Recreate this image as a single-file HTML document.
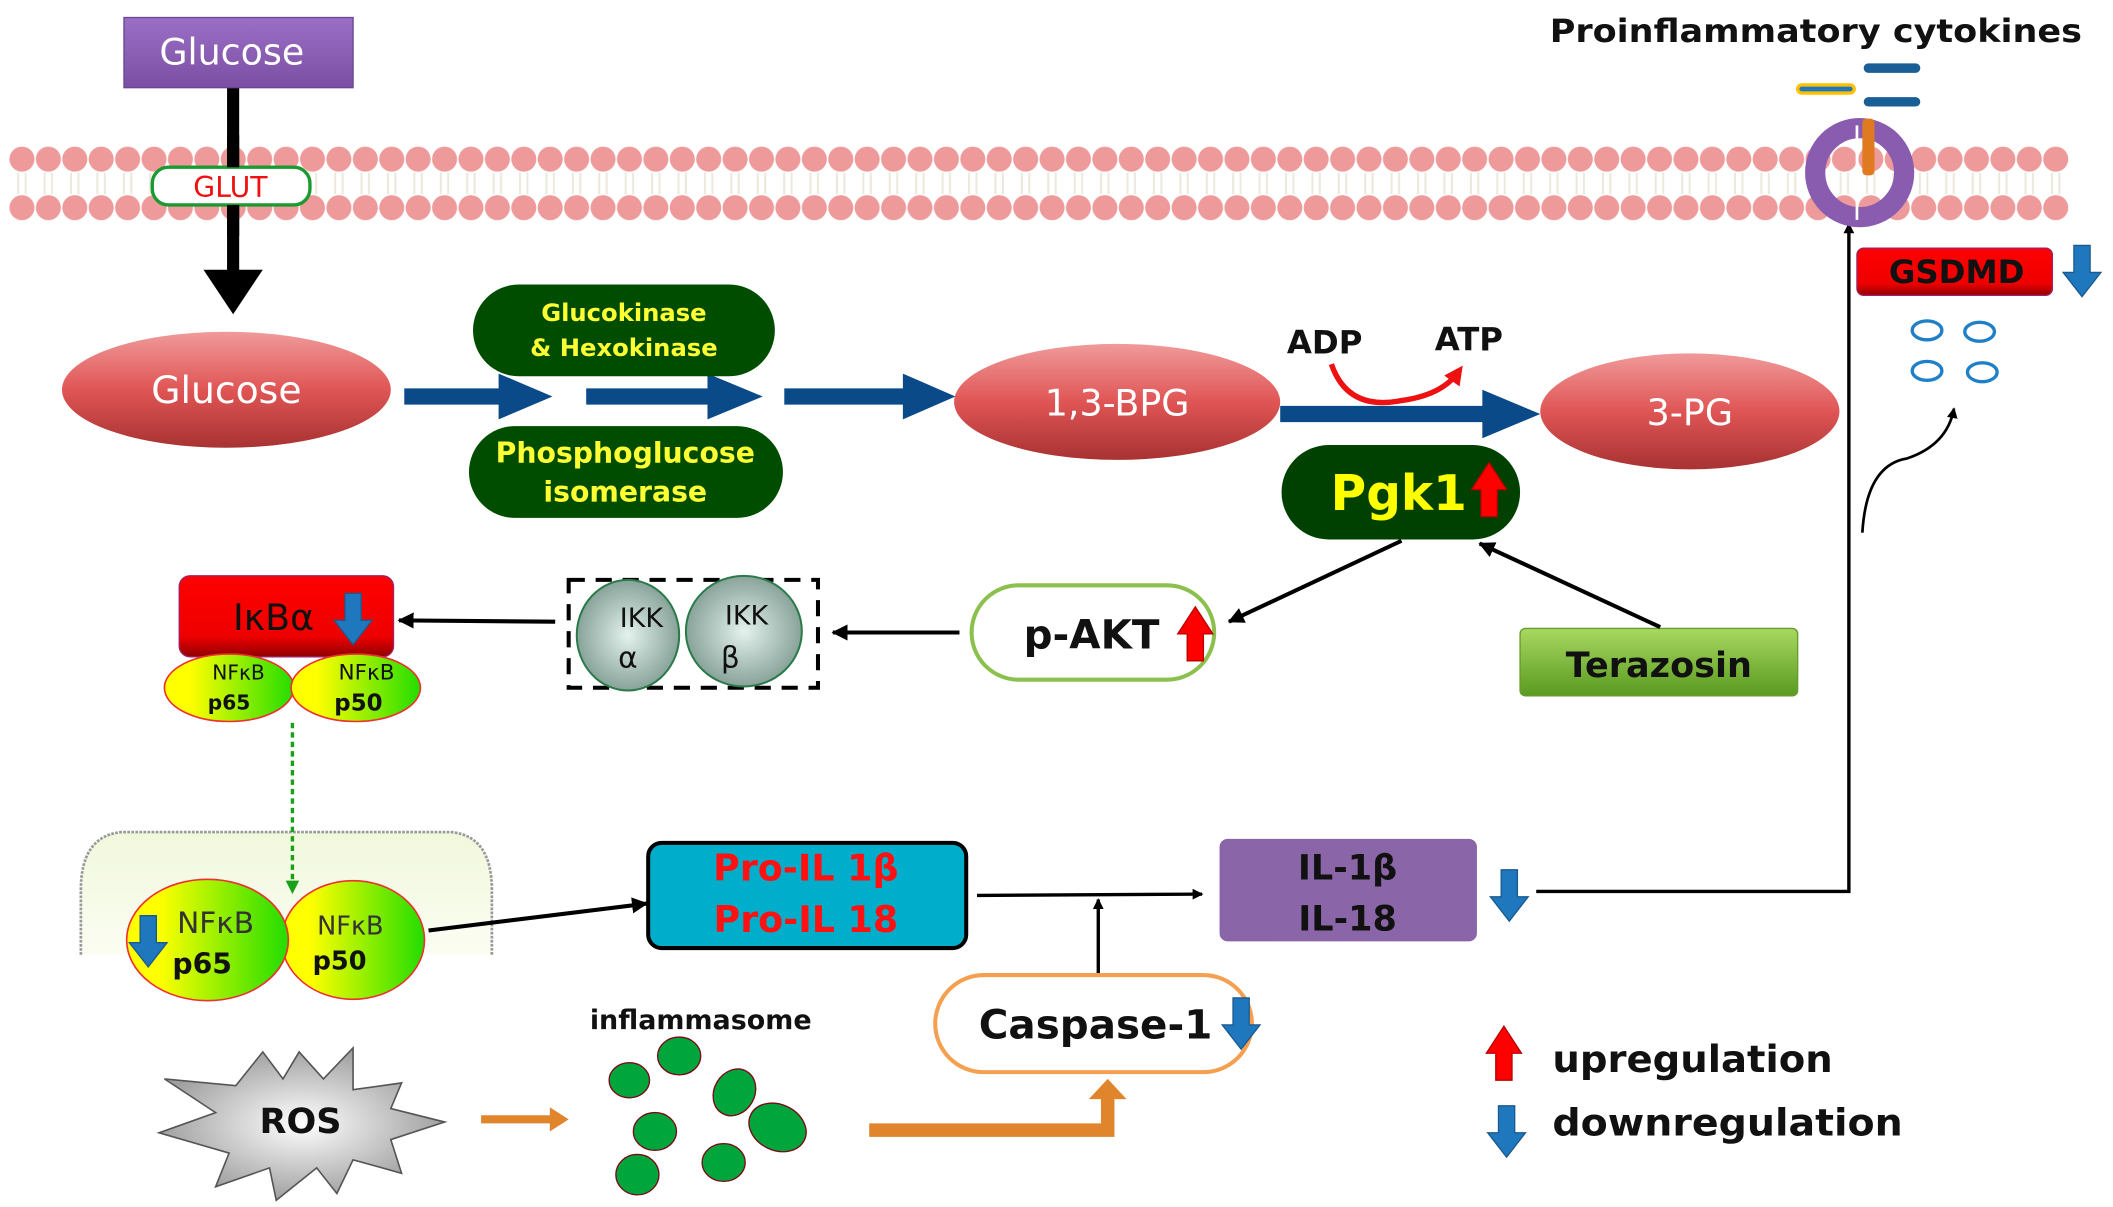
<!DOCTYPE html>
<html><head><meta charset="utf-8"><style>
html,body{margin:0;padding:0;background:#fff;}
svg{display:block;}
text{font-family:"DejaVu Sans","Liberation Sans",sans-serif;font-weight:bold;}
text.n{font-weight:normal;}
</style></head><body>
<svg width="2113" height="1207" viewBox="0 0 1568 895" preserveAspectRatio="none" xmlns="http://www.w3.org/2000/svg">
<defs>
<linearGradient id="red" x1="0" y1="0" x2="0" y2="1"><stop offset="0" stop-color="#f09a9a"/><stop offset="0.5" stop-color="#e05555"/><stop offset="1" stop-color="#a83232"/></linearGradient>
<linearGradient id="purp" x1="0" y1="0" x2="0" y2="1"><stop offset="0" stop-color="#9b6fc6"/><stop offset="1" stop-color="#7a4fa3"/></linearGradient>
<linearGradient id="yg" x1="0" y1="0" x2="1" y2="0"><stop offset="0.2" stop-color="#ffff00"/><stop offset="1" stop-color="#22dd00"/></linearGradient>
<radialGradient id="ikk" cx="0.5" cy="0.5" r="0.55"><stop offset="0" stop-color="#e4f2ee"/><stop offset="1" stop-color="#7f9b92"/></radialGradient>
<linearGradient id="grn" x1="0" y1="0" x2="0" y2="1"><stop offset="0" stop-color="#a8d860"/><stop offset="1" stop-color="#5a9a20"/></linearGradient>
<linearGradient id="rbox" x1="0" y1="0" x2="0" y2="1"><stop offset="0" stop-color="#ff0000"/><stop offset="0.75" stop-color="#ee0000"/><stop offset="1" stop-color="#900000"/></linearGradient>
<radialGradient id="ros" cx="0.5" cy="0.5" r="0.5"><stop offset="0" stop-color="#ffffff"/><stop offset="1" stop-color="#a0a0a0"/></radialGradient>
<linearGradient id="nuc" x1="0" y1="0" x2="0" y2="1"><stop offset="0" stop-color="#f0f8dc"/><stop offset="1" stop-color="#fbfdf2"/></linearGradient>
<pattern id="dotsA" patternUnits="userSpaceOnUse" x="6.5" y="108" width="19.6" height="20"><circle cx="9.8" cy="10" r="9.3" fill="#ee9a9a"/></pattern>
<pattern id="dotsB" patternUnits="userSpaceOnUse" x="6.5" y="144" width="19.6" height="20"><circle cx="9.8" cy="10" r="9.3" fill="#ee9a9a"/></pattern>
<pattern id="tails" patternUnits="userSpaceOnUse" x="6.5" y="128" width="19.6" height="16"><line x1="7" y1="0" x2="7" y2="16" stroke="#ece8dc" stroke-width="1.5"/><line x1="12.5" y1="0" x2="12.5" y2="16" stroke="#ece8dc" stroke-width="1.5"/></pattern>
<marker id="ah" markerWidth="8" markerHeight="8" refX="7" refY="4" orient="auto" markerUnits="userSpaceOnUse"><path d="M0,0 L8,4 L0,8 Z" fill="#000"/></marker>
<marker id="ahb" markerWidth="12" markerHeight="12" refX="11" refY="6" orient="auto" markerUnits="userSpaceOnUse"><path d="M0,0 L12,6 L0,12 Z" fill="#000"/></marker>
<marker id="ahg" markerWidth="10" markerHeight="10" refX="9" refY="5" orient="auto" markerUnits="userSpaceOnUse"><path d="M0,0 L10,5 L0,10 Z" fill="#18a018"/></marker>
<marker id="ahr" markerWidth="14" markerHeight="14" refX="8" refY="7" orient="auto" markerUnits="userSpaceOnUse"><path d="M0,0 L14,7 L0,14 Z" fill="#ee1111"/></marker>
<g id="barrow"><path d="M-6,-18 L6,-18 L6,2 L14,2 L0,20 L-14,2 L-6,2 Z" fill="#1f78bd" stroke="#1a5a90" stroke-width="1"/></g>
<g id="rarrow"><path d="M-6,20 L6,20 L6,0 L13,0 L0,-20 L-13,0 L-6,0 Z" fill="#ff0000" stroke="#b00" stroke-width="1"/></g>
</defs>

<!-- membrane -->
<rect x="6.5" y="108" width="1529" height="20" fill="url(#dotsA)"/>
<rect x="6.5" y="128" width="1529" height="16" fill="url(#tails)"/>
<rect x="6.5" y="144" width="1529" height="20" fill="url(#dotsB)"/>

<!-- Proinflammatory -->
<text x="1150" y="31" font-size="24" fill="#111" textLength="395" lengthAdjust="spacingAndGlyphs">Proinflammatory cytokines</text>
<rect x="1383" y="47" width="42" height="7" rx="3.5" fill="#1a5e96"/>
<rect x="1383" y="72" width="42" height="7" rx="3.5" fill="#1a5e96"/>
<rect x="1334" y="63" width="42" height="6" rx="3" fill="#1f78bd" stroke="#ffc000" stroke-width="2.5"/>

<!-- Glucose top -->
<line x1="173" y1="64" x2="173" y2="205" stroke="#000" stroke-width="9"/>
<path d="M151,200 L195,200 L173,233 Z" fill="#000"/>
<rect x="92" y="13" width="170" height="52" fill="url(#purp)" stroke="#6a4590" stroke-width="1"/>
<text class="n" x="172" y="48" font-size="27" fill="#fff" text-anchor="middle">Glucose</text>

<!-- Glucose ellipse -->
<ellipse cx="168" cy="289" rx="122" ry="43" fill="url(#red)"/>
<text class="n" x="168" y="299" font-size="28" fill="#fff" text-anchor="middle">Glucose</text>

<!-- blue arrows -->
<g fill="#0b4a88">
<path d="M300,288 L370,288 L370,277 L410,294 L370,311 L370,300 L300,300 Z"/>
<path d="M435,288 L525,288 L525,277 L566,294 L525,311 L525,300 L435,300 Z"/>
<path d="M582,288 L670,288 L670,277 L709,294 L670,311 L670,300 L582,300 Z"/>
<path d="M950,301 L1100,301 L1100,289 L1143,307 L1100,325 L1100,313 L950,313 Z"/>
</g>

<!-- enzymes -->
<rect x="351" y="211" width="224" height="68" rx="34" fill="#004d00"/>
<text x="463" y="238" font-size="18" fill="#ffff33" text-anchor="middle">Glucokinase</text>
<text x="463" y="264" font-size="18" fill="#ffff33" text-anchor="middle">&amp; Hexokinase</text>
<rect x="348" y="316" width="233" height="68" rx="34" fill="#004d00"/>
<text x="464" y="343" font-size="21" fill="#ffff33" text-anchor="middle">Phosphoglucose</text>
<text x="464" y="372" font-size="21" fill="#ffff33" text-anchor="middle">isomerase</text>

<!-- BPG, 3PG -->
<ellipse cx="829" cy="298" rx="121" ry="43" fill="url(#red)"/>
<text class="n" x="829" y="308" font-size="27" fill="#fff" text-anchor="middle">1,3-BPG</text>
<ellipse cx="1254" cy="305" rx="111" ry="43" fill="url(#red)"/>
<text class="n" x="1254" y="315" font-size="27" fill="#fff" text-anchor="middle">3-PG</text>
<text x="983" y="262" font-size="24" fill="#111" text-anchor="middle">ADP</text>
<text x="1090" y="260" font-size="24" fill="#111" text-anchor="middle">ATP</text>
<path d="M988,270 Q1000,305 1040,297 Q1070,293 1082,276" fill="none" stroke="#ee1111" stroke-width="4" marker-end="url(#ahr)"/>

<!-- Pgk1 -->
<rect x="951" y="330" width="177" height="70" rx="35" fill="#004000"/>
<text x="1038" y="378" font-size="36" fill="#ffff00" text-anchor="middle">Pgk1</text>
<use href="#rarrow" x="1105" y="363"/>

<!-- p-AKT -->
<rect x="721" y="434" width="180" height="70" rx="35" fill="#fff" stroke="#8cc04e" stroke-width="3"/>
<text x="810" y="481" font-size="30" fill="#111" text-anchor="middle">p-AKT</text>
<use href="#rarrow" x="887" y="470"/>

<!-- Terazosin -->
<rect x="1128" y="466" width="206" height="50" rx="4" fill="url(#grn)" stroke="#6a9a30"/>
<text x="1231" y="502" font-size="26" fill="#111" text-anchor="middle">Terazosin</text>

<line x1="1040" y1="401" x2="912" y2="461" stroke="#000" stroke-width="3" marker-end="url(#ahb)"/>
<line x1="1232" y1="465" x2="1098" y2="403" stroke="#000" stroke-width="3" marker-end="url(#ahb)"/>
<line x1="712" y1="469" x2="618" y2="469" stroke="#000" stroke-width="3" marker-end="url(#ahb)"/>

<!-- IKK -->
<rect x="422" y="430" width="185" height="80" fill="none" stroke="#000" stroke-width="3" stroke-dasharray="12,8"/>
<ellipse cx="466" cy="471" rx="38" ry="41" fill="url(#ikk)" stroke="#2a7a4a" stroke-width="1.5"/>
<ellipse cx="552" cy="468" rx="43" ry="41" fill="url(#ikk)" stroke="#2a7a4a" stroke-width="1.5"/>
<text class="n" x="476" y="465" font-size="20" fill="#111" text-anchor="middle">IKK</text>
<text class="n" x="466" y="495" font-size="22" fill="#111" text-anchor="middle">α</text>
<text class="n" x="554" y="463" font-size="20" fill="#111" text-anchor="middle">IKK</text>
<text class="n" x="542" y="495" font-size="22" fill="#111" text-anchor="middle">β</text>
<line x1="412" y1="461" x2="296" y2="460" stroke="#000" stroke-width="3" marker-end="url(#ahb)"/>

<!-- IkBa -->
<rect x="133" y="427" width="159" height="60" rx="8" fill="url(#rbox)" stroke="#a02060"/>
<text class="n" x="203" y="467" font-size="27" fill="#111" text-anchor="middle">IκBα</text>
<use href="#barrow" x="262" y="458"/>
<ellipse cx="170" cy="510" rx="48" ry="25" fill="url(#yg)" stroke="#ee3030" stroke-width="1.2"/>
<ellipse cx="264" cy="510" rx="48" ry="25" fill="url(#yg)" stroke="#ee3030" stroke-width="1.2"/>
<text class="n" x="177" y="504" font-size="15" fill="#111" text-anchor="middle">NFκB</text>
<text x="170" y="526" font-size="15" fill="#111" text-anchor="middle">p65</text>
<text class="n" x="272" y="504" font-size="16" fill="#111" text-anchor="middle">NFκB</text>
<text x="266" y="527" font-size="17" fill="#111" text-anchor="middle">p50</text>

<!-- nucleus -->
<path d="M60,708 L60,660 Q60,620 90,617 L335,617 Q365,620 365,660 L365,708 Z" fill="url(#nuc)"/>
<path d="M60,708 L60,660 Q60,620 90,617 L335,617 Q365,620 365,660 L365,708" fill="none" stroke="#999" stroke-width="2" stroke-dasharray="2,1"/>
<line x1="217" y1="536" x2="217" y2="662" stroke="#18a018" stroke-width="2.5" stroke-dasharray="4,3" marker-end="url(#ahg)"/>
<ellipse cx="262" cy="697" rx="53" ry="44" fill="url(#yg)" stroke="#ee3030" stroke-width="1.2"/>
<ellipse cx="154" cy="697" rx="60" ry="45" fill="url(#yg)" stroke="#ee3030" stroke-width="1.2"/>
<text class="n" x="160" y="692" font-size="22" fill="#333" text-anchor="middle">NFκB</text>
<text x="150" y="722" font-size="21" fill="#111" text-anchor="middle">p65</text>
<use href="#barrow" x="110" y="697"/>
<text class="n" x="260" y="693" font-size="19" fill="#333" text-anchor="middle">NFκB</text>
<text x="252" y="719" font-size="19" fill="#111" text-anchor="middle">p50</text>
<line x1="318" y1="690" x2="480" y2="670" stroke="#000" stroke-width="3" marker-end="url(#ahb)"/>

<!-- Pro-IL -->
<rect x="481" y="625" width="236" height="78" rx="10" fill="#00aecc" stroke="#000" stroke-width="3"/>
<text x="598" y="653" font-size="27" fill="#ff1111" text-anchor="middle">Pro-IL 1β</text>
<text x="598" y="691" font-size="27" fill="#ff1111" text-anchor="middle">Pro-IL 18</text>
<line x1="725" y1="664" x2="892" y2="663" stroke="#000" stroke-width="2.5" marker-end="url(#ah)"/>
<line x1="815" y1="722" x2="815" y2="667" stroke="#000" stroke-width="2.5" marker-end="url(#ah)"/>

<!-- IL -->
<rect x="905" y="622" width="191" height="76" rx="6" fill="#8a66a8"/>
<text x="1000" y="652" font-size="26" fill="#111" text-anchor="middle">IL-1β</text>
<text x="1000" y="690" font-size="26" fill="#111" text-anchor="middle">IL-18</text>
<use href="#barrow" x="1120" y="663"/>
<polyline points="1140,661 1372,661 1372,166" fill="none" stroke="#000" stroke-width="2.5" marker-end="url(#ah)"/>

<!-- Caspase -->
<rect x="694" y="723" width="235" height="72" rx="36" fill="#fff" stroke="#f5a050" stroke-width="3"/>
<text x="813" y="770" font-size="30" fill="#111" text-anchor="middle">Caspase-1</text>
<use href="#barrow" x="921" y="758"/>

<!-- ROS -->
<path d="M222,780 L240,800 L262,777 L262,808 L298,803 L290,822 L330,832 L290,845 L298,870 L262,860 L250,885 L235,866 L205,890 L200,866 L160,880 L170,855 L118,840 L160,825 L122,800 L175,805 L195,780 L210,800 Z" fill="url(#ros)" stroke="#555" stroke-width="1.2"/>
<text x="223" y="840" font-size="26" fill="#111" text-anchor="middle">ROS</text>
<g fill="#e0852c">
<path d="M357,827 L408,827 L408,821 L422,830 L408,839 L408,833 L357,833 Z"/>
<path d="M645,833 L817,833 L817,815 L808,815 L822,800 L836,815 L827,815 L827,843 L645,843 Z"/>
</g>

<!-- inflammasome -->
<text x="520" y="763" font-size="20" fill="#111" text-anchor="middle">inflammasome</text>
<g fill="#00a63c" stroke="#7a0a1a" stroke-width="1">
<ellipse cx="467" cy="801" rx="15" ry="13"/>
<ellipse cx="504" cy="783" rx="16" ry="14"/>
<ellipse cx="545" cy="810" rx="15" ry="18" transform="rotate(30 545 810)"/>
<ellipse cx="486" cy="839" rx="16" ry="14"/>
<ellipse cx="577" cy="836" rx="22" ry="17" transform="rotate(25 577 836)"/>
<ellipse cx="473" cy="871" rx="16" ry="15"/>
<ellipse cx="537" cy="862" rx="16" ry="14"/>
</g>

<!-- legend -->
<use href="#rarrow" x="1116" y="781"/>
<text x="1152" y="795" font-size="28" fill="#111" textLength="208" lengthAdjust="spacingAndGlyphs">upregulation</text>
<use href="#barrow" x="1118" y="838"/>
<text x="1152" y="842" font-size="28" fill="#111" textLength="260" lengthAdjust="spacingAndGlyphs">downregulation</text>

<!-- GSDMD -->
<rect x="1378" y="184" width="145" height="35" rx="5" fill="url(#rbox)" stroke="#a02060"/>
<text x="1452" y="210" font-size="24" fill="#111" text-anchor="middle">GSDMD</text>
<use href="#barrow" x="1545" y="200"/>
<g fill="none" stroke="#1f80c8" stroke-width="2.5">
<ellipse cx="1430" cy="245" rx="11" ry="7"/><ellipse cx="1469" cy="246" rx="11" ry="7"/>
<ellipse cx="1430" cy="275" rx="11" ry="7"/><ellipse cx="1471" cy="276" rx="11" ry="7"/>
</g>
<path d="M1382,395 Q1385,345 1415,340 Q1445,330 1450,303" fill="none" stroke="#000" stroke-width="2" marker-end="url(#ah)"/>

<!-- GLUT over membrane -->
<rect x="113" y="124" width="117" height="28" rx="12" fill="#fff" stroke="#1a9a30" stroke-width="2.5"/>
<text class="n" x="171" y="146" font-size="21" fill="#ee1111" text-anchor="middle">GLUT</text>
<line x1="173" y1="100" x2="173" y2="124" stroke="#000" stroke-width="9"/>
<line x1="173" y1="152" x2="173" y2="175" stroke="#000" stroke-width="9"/>
<!-- pore -->
<circle cx="1380" cy="128" r="33" fill="none" stroke="#8a5cb0" stroke-width="15"/>
<line x1="1378" y1="93" x2="1378" y2="163" stroke="#fff" stroke-width="2"/>
<rect x="1382" y="88" width="9" height="42" rx="3" fill="#e07a20"/>
</svg>
</body></html>
